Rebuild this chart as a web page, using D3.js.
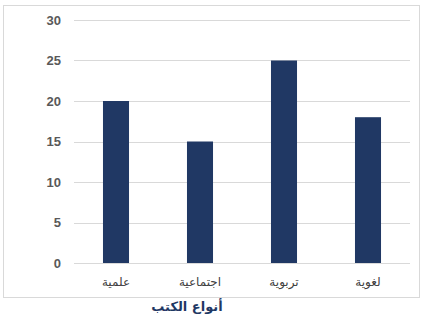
<!DOCTYPE html>
<html><head><meta charset="utf-8">
<script src="https://cdn.jsdelivr.net/npm/d3@7"></script>
<style>body{margin:0;background:#fff}svg{display:block}</style>
</head><body>
<script>
const categories = ["علمية", "اجتماعية", "تربوية", "لغوية"];
const values = [20, 15, 25, 18];
const yTicks = [0, 5, 10, 15, 20, 25, 30];
const axisTitle = "أنواع الكتب";

const W = 428, H = 325;
const svg = d3.select("body").append("svg").attr("width", W).attr("height", H);
svg.append("rect").attr("x", 3.5).attr("y", 5.5).attr("width", 416).attr("height", 292)
  .attr("fill", "#fff").attr("stroke", "#d9d9d9").attr("stroke-width", 1);

const x = d3.scaleBand().domain(categories).range([74, 410]).paddingInner(0.69).paddingOuter(0.345);
const y = d3.scaleLinear().domain([0, 30]).range([263, 20]);

const grid = svg.append("g");
grid.selectAll("line").data(yTicks).join("line")
  .attr("x1", 74).attr("x2", 410)
  .attr("y1", d => Math.round(y(d)) + 0.5).attr("y2", d => Math.round(y(d)) + 0.5)
  .attr("stroke", "#d9d9d9").attr("stroke-width", 1);

const yAxis = svg.append("g").attr("transform", "translate(61,0)")
  .call(d3.axisLeft(y).tickValues(yTicks).tickSize(0).tickPadding(0));
yAxis.select(".domain").remove();
yAxis.selectAll("text").attr("font-family", "Liberation Sans, Arial, sans-serif")
  .attr("font-size", 13).attr("font-weight", "bold").attr("fill", "#595959");

svg.append("g").selectAll("rect").data(values).join("rect")
  .attr("x", (d, i) => x(categories[i])).attr("width", x.bandwidth())
  .attr("y", d => y(d)).attr("height", d => y(0) - y(d))
  .attr("fill", "#203864");

const xAxis = svg.append("g").attr("transform", "translate(0,263)")
  .call(d3.axisBottom(x).tickSize(0).tickPadding(14));
xAxis.select(".domain").remove();
xAxis.selectAll("text").attr("font-family", "DejaVu Sans, sans-serif")
  .attr("font-size", 12).attr("fill", "#404040");

svg.append("text").attr("x", 187).attr("y", 311).attr("text-anchor", "middle")
  .attr("font-family", "DejaVu Sans, sans-serif").attr("font-weight", "bold")
  .attr("font-size", 13).attr("fill", "#1f3864").text(axisTitle);
</script>
</body></html>
